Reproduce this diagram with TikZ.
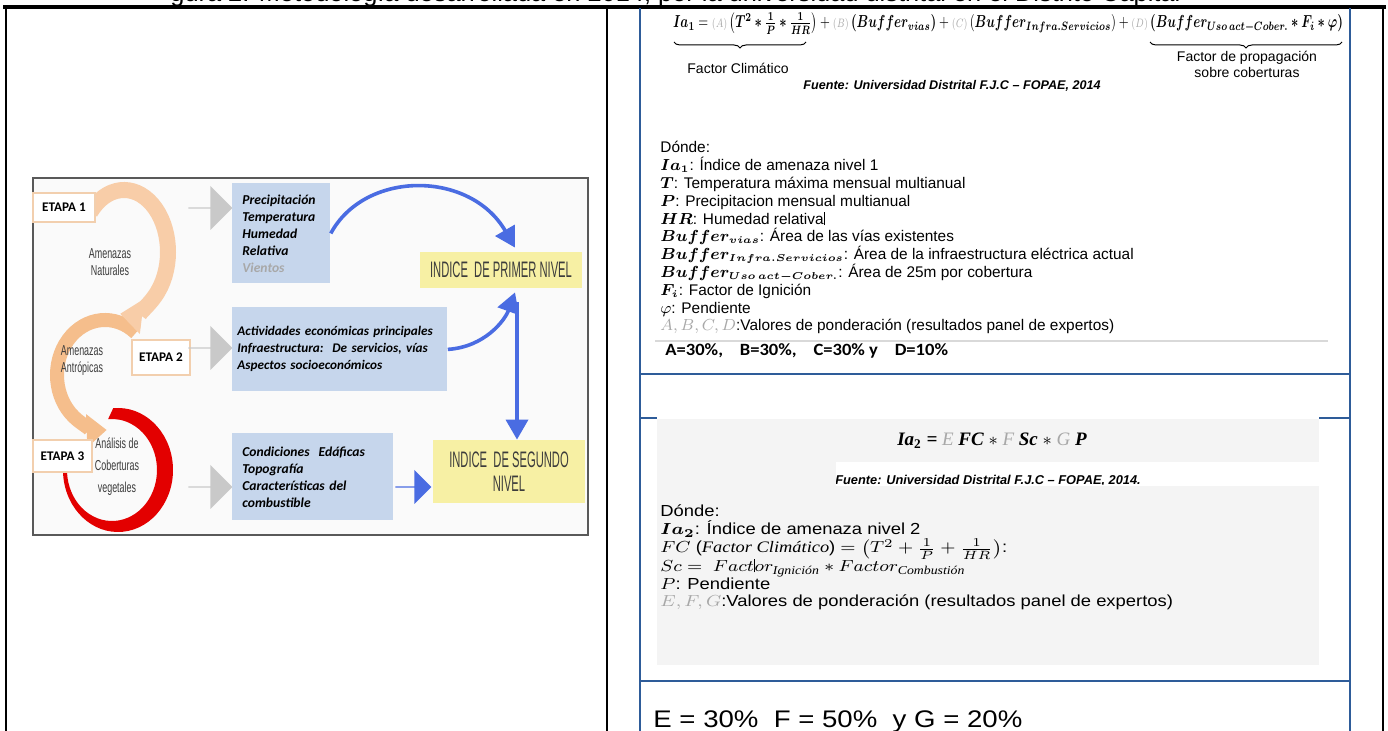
\documentclass[tikz,border=0pt]{standalone}
\usepackage{amsmath}
\usepackage{bm}
\usepackage{fontspec}
\setmainfont{Liberation Sans}
\newfontfamily\carl{Carlito}
\newfontfamily\tnr{Liberation Serif}
\usetikzlibrary{arrows.meta,shapes.arrows,calc,decorations.pathreplacing}
\definecolor{tblue}{HTML}{2E5C99}
\definecolor{boxblue}{HTML}{C6D6EC}
\definecolor{ylw}{HTML}{F7F0A4}
\definecolor{abl}{HTML}{4A6CE2}
\definecolor{garr}{HTML}{C9C9C9}
\definecolor{peachA}{HTML}{F8CDA8}
\definecolor{peachB}{HTML}{F5BE8C}
\definecolor{ringred}{HTML}{E30000}
\definecolor{lg}{HTML}{A8A8A8}
\definecolor{pbg}{HTML}{F4F4F4}
\definecolor{imgbg}{HTML}{FAFAFA}
\definecolor{dtext}{HTML}{3C3C3C}
\definecolor{etapa}{HTML}{F2CFAE}
\tikzset{
 bbox/.style={fill=boxblue, draw=none, anchor=north west, inner ysep=0pt, inner xsep=5pt, font=\carl\bfseries\itshape\fontsize{6.8}{8.5}\selectfont, align=left},
 ybox/.style={fill=ylw, inner sep=0pt, text=dtext, font=\fontsize{11.2}{12}\selectfont, align=center},
 etp/.style={draw=etapa, line width=0.8pt, fill=white, font=\carl\bfseries\fontsize{6.6}{7}\selectfont, inner sep=0pt},
 garrow/.style={single arrow, fill=garr, draw=none, inner sep=0pt, minimum height=22pt, minimum width=22pt, single arrow head extend=6pt},
 barrow/.style={single arrow, fill=abl, draw=none, inner sep=0pt, minimum height=18pt, minimum width=17pt, single arrow head extend=4.5pt},
 cflow/.style={abl, line width=1.8pt, -{Triangle[length=10pt,width=11pt]}},
 cyc/.style={font=\fontsize{7.2}{8.5}\selectfont, text=dtext, align=center, inner sep=0pt},
 lst/.style={anchor=base west, inner sep=0pt, font=\fontsize{7.7}{9}\selectfont},
 lstb/.style={anchor=base west, inner sep=0pt, font=\fontsize{8}{9}\selectfont},
 lbl/.style={inner sep=0pt, font=\fontsize{7}{8}\selectfont, align=center},
 brc/.style={decorate, decoration={brace, amplitude=3pt, mirror}, line width=0.5pt},
}
\begin{document}
\begin{tikzpicture}[x=0.5pt,y=-0.5pt]
\useasboundingbox (0,0) rectangle (1388,731);
\clip (0,0) rectangle (1388,731);
\fill[white] (0,0) rectangle (1388,731);

% caption (cut at the top)
\node[anchor=base west, inner sep=0pt] (cap) at (170,2) {\resizebox{505pt}{!}{gura 2. Metodología desarrollada en 2014, por la universidad distrital en el Distrito Capital}};

% table rules
\draw[line width=1.6pt] (3,7) -- (1386,7);
\draw[line width=1pt] (6,7) -- (6,731);
\draw[line width=1pt] (607,7) -- (607,731);
\draw[line width=1pt] (1383,7) -- (1383,731);
\draw[tblue, line width=0.7pt] (640,8) -- (640,731) (1350,8) -- (1350,731);
\draw[tblue, line width=0.7pt] (640,374) -- (1350,374);
\draw[tblue, line width=0.7pt] (640,418) -- (657,418) (1319,418) -- (1350,418);
\draw[tblue, line width=0.7pt] (640,681) -- (1350,681);

% ---------------- left image ----------------
\draw[draw=gray!70!black, line width=0.6pt, fill=imgbg] (33,178) rectangle (588,535);

% cycle
\fill[ringred] ([shift={(118,470)}]-95:55 and 62) arc[start angle=-95,end angle=205,x radius=55,y radius=62]
  -- ([shift={(112,470)}]205:45 and 51) arc[start angle=205,end angle=-95,x radius=45,y radius=51] -- cycle;
\draw[peachB, line width=7pt, -{Triangle[length=10pt,width=16pt]}] ([shift={(105,375)}]-50:48 and 55) arc[start angle=-50,end angle=-272,x radius=48,y radius=55];
\draw[peachA, line width=8pt, -{Triangle[length=11pt,width=17pt]}] ([shift={(124,252)}]-140:44 and 62) arc[start angle=-140,end angle=95,x radius=44,y radius=62];

\node[cyc] (an) at (110,262) {\scalebox{.62}[1]{Amenazas}\\\scalebox{.62}[1]{Naturales}};
\node[cyc] (aa) at (82,361) {\scalebox{.62}[1]{Amenazas}\\\scalebox{.62}[1]{Antrópicas}};
\node[cyc, font=\fontsize{7.2}{11}\selectfont] (ac) at (117,467) {\scalebox{.62}[1]{Análisis de}\\\scalebox{.62}[1]{Coberturas}\\\scalebox{.62}[1]{vegetales}};

\node[etp, minimum width=31pt, minimum height=14.5pt] (e1) at (64,207.5) {ETAPA 1};
\node[etp, minimum width=29pt, minimum height=17.5pt] (e2) at (161,357.5) {ETAPA 2};
\node[etp, minimum width=29.5pt, minimum height=16pt] (e3) at (62.5,456) {ETAPA 3};

\node[garrow] (ga1) at (210,208) {};
\node[garrow] (ga2) at (210,348) {};
\node[garrow] (ga3) at (210,487) {};

\node[bbox, minimum width=49pt, minimum height=50pt, text width=39pt] (b1) at (232,183)
  {Precipitación\\Temperatura\\Humedad\\Relativa\\{\color{lg}Vientos}};
\node[bbox, minimum width=107.5pt, minimum height=42pt, text width=102.5pt, inner xsep=2.5pt, font=\carl\bfseries\itshape\fontsize{6.6}{8.5}\selectfont] (b2) at (232,307)
  {Actividades económicas principales\\Infraestructura:\ \ De servicios, vías\\Aspectos socioeconómicos};
\node[bbox, minimum width=80.5pt, minimum height=43.5pt, text width=70.5pt] (b3) at (232,433)
  {Condiciones\ \ Edáficas\\Topografía\\Características del\\combustible};

\node[ybox, minimum width=81pt, minimum height=18pt] (y1) at (501,270) {\scalebox{0.5}[1]{INDICE\ \ DE PRIMER NIVEL}};
\node[ybox, minimum width=76pt, minimum height=31.5pt] (y2) at (509,471.5) {\scalebox{0.5}[1]{INDICE\ \ DE SEGUNDO}\\\scalebox{0.5}[1]{NIVEL}};

\node[barrow] (ba) at (413,487) {};

\coordinate (c1end) at ([xshift=7pt,yshift=2pt]y1.north);
\coordinate (c2end) at ([xshift=7pt,yshift=-2pt]y1.south);
\coordinate (vstart) at ([xshift=8pt,yshift=-7pt]y1.south);
\coordinate (vend) at (vstart |- y2.north);
\draw[cflow] (b1.east) .. controls (365,170) and (470,170) .. (c1end);
\draw[cflow] (b2.east) .. controls (485,347) and (505,320) .. (c2end);
\draw[cflow] (vstart) -- (vend);

% ---------------- right panel ----------------
\node[anchor=base, inner sep=0pt] (f1) at (1008,28) {\resizebox{335pt}{7.6pt}{$\bm{Ia_1} = {\color{lg}\scriptstyle(A)}\left(\bm{T^2 \ast \frac{1}{P}\ast\frac{1}{HR}}\right) + {\color{lg}\scriptstyle(B)}\,\bm{(Buffer_{vias})} + {\color{lg}\scriptstyle(C)}\left(\bm{Buffer_{Infra.Servicios}}\right) + {\color{lg}\scriptstyle(D)}\,\bm{(Buffer_{Uso\,act-Cober.}\ast F_i\ast\varphi)}$}};
\coordinate (br1a) at (674,42);
\coordinate (br1b) at (806,42);
\coordinate (br2a) at (1150,42);
\coordinate (br2b) at (1342,42);
\draw[brc] (br1a) -- (br1b);
\draw[brc] (br2a) -- (br2b);
\node[lbl] (fcl) at (738,68) {Factor Climático};
\node[lbl] (fprop) at (1247,64) {Factor de propagación\\sobre coberturas};
\node[inner sep=0pt, font=\bfseries\itshape\fontsize{6.3}{7}\selectfont] (src1) at (952,86) {Fuente: Universidad Distrital F.J.C – FOPAE, 2014};

\node[lst] (l0) at (660,153) {Dónde:};
\node[lst] (l1) at (660,170.8) {$\bm{Ia_1}$: Índice de amenaza nivel 1};
\node[lst] (l2) at (660,188.6) {$\bm{T}$: Temperatura máxima mensual multianual};
\node[lst] (l3) at (660,206.4) {$\bm{P}$: Precipitacion mensual multianual};
\node[lst] (l4) at (660,224.2) {$\bm{HR}$: Humedad relativa\rule[-0.5pt]{0.3pt}{6.5pt}};
\node[lst] (l5) at (660,242) {$\bm{Buffer_{vias}}$: Área de las vías existentes};
\node[lst] (l6) at (660,259.8) {$\bm{Buffer_{Infra.Servicios}}$: Área de la infraestructura eléctrica actual};
\node[lst] (l7) at (660,277.6) {$\bm{Buffer_{Uso\,act-Cober.}}$: Área de 25m por cobertura};
\node[lst] (l8) at (660,295.4) {$\bm{F_i}$: Factor de Ignición};
\node[lst] (l9) at (660,313.2) {$\varphi$: Pendiente};
\node[lst] (l10) at (660,331) {{\color{lg}$A, B, C, D$}:Valores de ponderación (resultados panel de expertos)};
\draw[gray!30, line width=0.6pt] (655,341) -- (1328,341);
\node[anchor=base west, inner sep=0pt, font=\carl\bfseries\fontsize{8.6}{10}\selectfont] (pct1) at (665,356) {\scalebox{1.08}[1]{A=30\%,\ \ \ \ B=30\%,\ \ \ \ C=30\% y\ \ \ \ D=10\%}};

% second formula image
\fill[pbg] (657,419) rectangle (1319,665);
\fill[white] (836,462) rectangle (1319,486);
\node[inner sep=0pt, font=\tnr\bfseries\itshape\fontsize{9.5}{12}\selectfont] (f2) at (992,441) {Ia\textsubscript{\upshape 2} = {\color{lg}\mdseries E} FC $\ast$ {\color{lg}\mdseries F} Sc $\ast$ {\color{lg}\mdseries G} P};
\begin{scope}
\clip (836,462) rectangle (1319,485);
\node[anchor=base, inner sep=0pt, font=\bfseries\itshape\fontsize{6.4}{8}\selectfont] (src2) at (988,485) {Fuente: Universidad Distrital F.J.C – FOPAE, 2014.};
\end{scope}

\node[lstb] (m0) at (660,517) {\scalebox{1.15}[1]{Dónde:}};
\node[lstb] (m1) at (660,535) {\scalebox{1.15}[1]{$\bm{Ia_2}$: Índice de amenaza nivel 2}};
\node[lstb] (m2) at (660,553) {\scalebox{1.15}[1]{$FC$ ({\tnr\itshape Factor Climático}) $= \left(T^2 + \frac{1}{P} + \frac{1}{HR}\right)$:}};
\node[lstb] (m3) at (660,571.5) {\scalebox{1.15}[1]{$Sc =\ Fact$\rule[-0.5pt]{0.3pt}{6.5pt}$or_{\text{\tnr\itshape Ignición}} \ast Factor_{\text{\tnr\itshape Combustión}}$}};
\node[lstb] (m4) at (660,589.5) {\scalebox{1.15}[1]{$P$: Pendiente}};
\node[lstb] (m5) at (660,607) {\scalebox{1.15}[1]{{\color{lg}$E, F, G$}:Valores de ponderación (resultados panel de expertos)}};

\node[anchor=base west, inner sep=0pt, font=\fontsize{12}{14}\selectfont] (pct2) at (653,728) {\scalebox{1.15}[1]{E = 30\%\ \ F = 50\%\ \ y G = 20\%}};
\end{tikzpicture}
\end{document}
